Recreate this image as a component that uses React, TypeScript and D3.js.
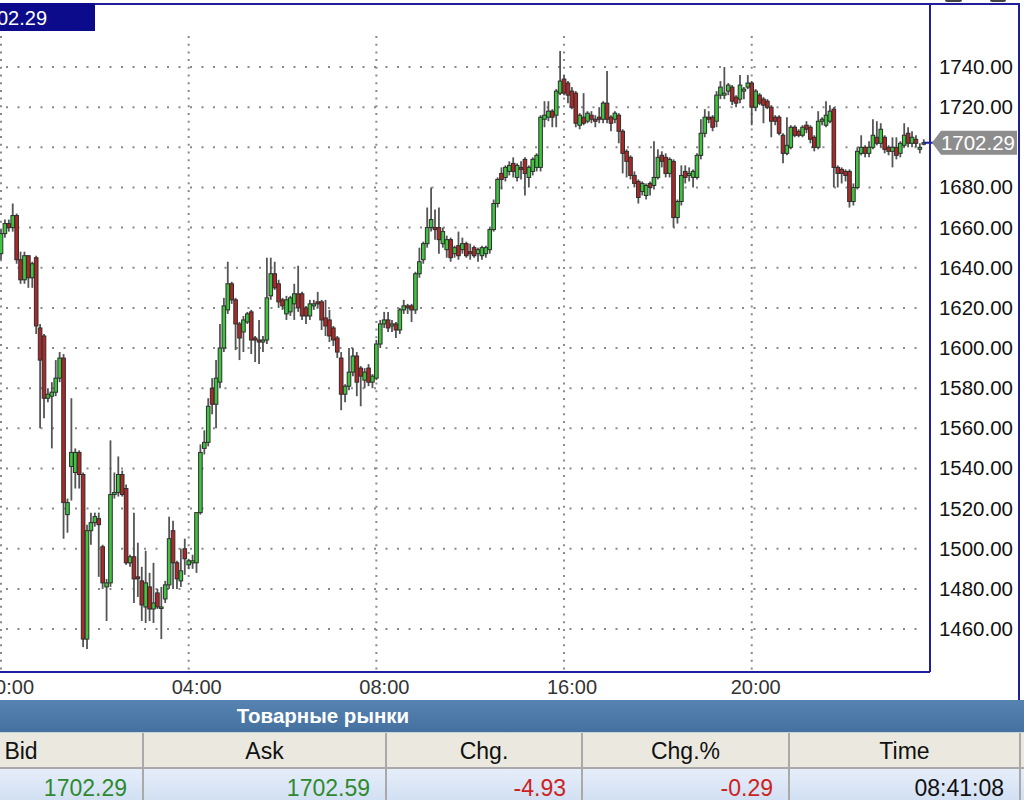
import React, { useEffect, useRef } from "react";
import * as d3 from "d3";

// OHLC, 5-min candles, one array per 4h session block
const seg0 = [
  [1647, 1659, 1644, 1657], [1657, 1664, 1655, 1662], [1662, 1664, 1658, 1660], [1660, 1672, 1658, 1666],
  [1666, 1667, 1642, 1644], [1644, 1648, 1632, 1634], [1634, 1648, 1632, 1646], [1646, 1646, 1630, 1635],
  [1635, 1643, 1630, 1642], [1645, 1646, 1607, 1611], [1610, 1612, 1560, 1594], [1606, 1607, 1565, 1575],
  [1575, 1580, 1573, 1577], [1576, 1583, 1550, 1578], [1578, 1594, 1576, 1585], [1585, 1598, 1583, 1595],
  [1595, 1597, 1505, 1523], [1517, 1525, 1508, 1523], [1541, 1575, 1524, 1548], [1538, 1550, 1530, 1548],
  [1548, 1549, 1530, 1537], [1537, 1538, 1451, 1455], [1455, 1512, 1450, 1509], [1509, 1518, 1502, 1513],
  [1513, 1518, 1511, 1516], [1515, 1518, 1486, 1512], [1501, 1502, 1480, 1483], [1481, 1485, 1464, 1483],
  [1483, 1554, 1481, 1527], [1527, 1538, 1525, 1528], [1528, 1546, 1526, 1537], [1537, 1539, 1526, 1527],
  [1530, 1532, 1492, 1493], [1493, 1497, 1491, 1496], [1496, 1518, 1473, 1485], [1486, 1503, 1476, 1485],
  [1484, 1491, 1464, 1472], [1471, 1499, 1463, 1483], [1481, 1488, 1464, 1470], [1470, 1493, 1463, 1473],
  [1478, 1480, 1470, 1471], [1471, 1481, 1455, 1471], [1475, 1484, 1473, 1482], [1482, 1516, 1480, 1505],
  [1509, 1514, 1480, 1493], [1493, 1494, 1480, 1485], [1484, 1500, 1481, 1489], [1500, 1505, 1487, 1495],
];
const seg1 = [
  [1492, 1495, 1490, 1494], [1493, 1497, 1490, 1494], [1493, 1518, 1488, 1518], [1518, 1552, 1517, 1548],
  [1550, 1559, 1547, 1553], [1553, 1575, 1551, 1571], [1580, 1585, 1567, 1572], [1572, 1594, 1560, 1585],
  [1583, 1612, 1580, 1600], [1600, 1625, 1598, 1621], [1619, 1643, 1617, 1632], [1632, 1633, 1622, 1624],
  [1624, 1625, 1599, 1612], [1612, 1613, 1594, 1605], [1608, 1616, 1598, 1614], [1613, 1618, 1612, 1617],
  [1618, 1619, 1597, 1604], [1605, 1606, 1593, 1604], [1604, 1614, 1592, 1603], [1603, 1606, 1598, 1604],
  [1604, 1645, 1602, 1625], [1626, 1645, 1624, 1637], [1637, 1643, 1629, 1630], [1632, 1634, 1620, 1623],
  [1624, 1625, 1619, 1621], [1617, 1626, 1614, 1624], [1618, 1626, 1616, 1625], [1622, 1632, 1614, 1627],
  [1627, 1641, 1618, 1620], [1627, 1628, 1614, 1616], [1620, 1621, 1612, 1616], [1616, 1624, 1614, 1622],
  [1621, 1624, 1619, 1622], [1623, 1628, 1620, 1622], [1623, 1624, 1609, 1614], [1615, 1624, 1606, 1611],
  [1614, 1619, 1603, 1606], [1610, 1611, 1601, 1604], [1605, 1606, 1595, 1598], [1595, 1598, 1569, 1577],
  [1577, 1582, 1573, 1581], [1581, 1600, 1579, 1588], [1588, 1600, 1586, 1596], [1596, 1598, 1576, 1583],
  [1590, 1591, 1571, 1586], [1584, 1590, 1580, 1588], [1590, 1592, 1581, 1583], [1583, 1587, 1580, 1586],
];
const seg2 = [
  [1585, 1604, 1584, 1602], [1602, 1614, 1600, 1612], [1612, 1618, 1610, 1614], [1614, 1618, 1608, 1610],
  [1611, 1614, 1608, 1612], [1612, 1613, 1605, 1609], [1609, 1620, 1607, 1619], [1619, 1624, 1617, 1621],
  [1621, 1622, 1617, 1620], [1621, 1622, 1613, 1619], [1619, 1638, 1617, 1637], [1637, 1650, 1635, 1643],
  [1644, 1653, 1642, 1652], [1652, 1670, 1650, 1660], [1660, 1680, 1658, 1664], [1660, 1669, 1654, 1659],
  [1660, 1670, 1647, 1654], [1652, 1660, 1650, 1658], [1649, 1656, 1645, 1654], [1654, 1655, 1643, 1645],
  [1647, 1651, 1645, 1650], [1651, 1658, 1644, 1646], [1649, 1655, 1647, 1652], [1652, 1653, 1645, 1646],
  [1648, 1652, 1644, 1647], [1650, 1651, 1645, 1646], [1647, 1650, 1643, 1649], [1646, 1651, 1644, 1650],
  [1647, 1651, 1645, 1650], [1649, 1660, 1647, 1659], [1659, 1674, 1658, 1672], [1672, 1685, 1670, 1684],
  [1687, 1690, 1679, 1684], [1685, 1691, 1683, 1690], [1688, 1693, 1686, 1691], [1692, 1695, 1685, 1688],
  [1685, 1692, 1683, 1691], [1690, 1693, 1684, 1689], [1694, 1695, 1676, 1687], [1685, 1691, 1680, 1690],
  [1688, 1695, 1686, 1694], [1690, 1697, 1688, 1696], [1690, 1716, 1688, 1715], [1714, 1723, 1710, 1716],
  [1715, 1723, 1713, 1718], [1718, 1719, 1710, 1715], [1716, 1729, 1710, 1728], [1727, 1748, 1726, 1733],
];
const seg3 = [
  [1734, 1736, 1726, 1727], [1732, 1733, 1722, 1726], [1728, 1730, 1719, 1720], [1727, 1728, 1710, 1712],
  [1711, 1717, 1709, 1716], [1715, 1727, 1711, 1712], [1713, 1718, 1712, 1717], [1716, 1718, 1712, 1714],
  [1714, 1716, 1710, 1713], [1715, 1720, 1712, 1714], [1714, 1723, 1712, 1722], [1722, 1738, 1712, 1714],
  [1715, 1716, 1708, 1712], [1714, 1718, 1712, 1717], [1716, 1717, 1702, 1708], [1708, 1709, 1687, 1697],
  [1698, 1699, 1685, 1693], [1695, 1696, 1684, 1686], [1686, 1688, 1680, 1682], [1683, 1684, 1672, 1675],
  [1678, 1683, 1676, 1682], [1676, 1682, 1674, 1681], [1682, 1683, 1676, 1680], [1681, 1703, 1679, 1685],
  [1685, 1699, 1684, 1695], [1696, 1698, 1690, 1693], [1695, 1697, 1685, 1687], [1687, 1695, 1685, 1694],
  [1693, 1694, 1660, 1665], [1665, 1674, 1662, 1673], [1673, 1691, 1671, 1686], [1688, 1691, 1682, 1685],
  [1686, 1690, 1683, 1687], [1685, 1689, 1680, 1688], [1685, 1697, 1684, 1696], [1696, 1714, 1694, 1707],
  [1707, 1719, 1705, 1715], [1715, 1718, 1712, 1714], [1715, 1716, 1708, 1710], [1713, 1728, 1710, 1726],
  [1726, 1733, 1724, 1730], [1726, 1740, 1724, 1727], [1728, 1732, 1726, 1731], [1730, 1731, 1721, 1723],
  [1725, 1726, 1720, 1722], [1724, 1736, 1722, 1731], [1728, 1730, 1724, 1729], [1730, 1736, 1729, 1732],
];
const seg4 = [
  [1732, 1733, 1711, 1720], [1720, 1729, 1718, 1728], [1726, 1727, 1721, 1722], [1724, 1725, 1712, 1721],
  [1723, 1724, 1719, 1720], [1720, 1721, 1705, 1713], [1715, 1716, 1711, 1713], [1715, 1716, 1706, 1707],
  [1706, 1707, 1692, 1697], [1697, 1715, 1696, 1701], [1700, 1711, 1699, 1710], [1710, 1711, 1705, 1706],
  [1708, 1709, 1705, 1706], [1706, 1711, 1705, 1710], [1711, 1713, 1707, 1709], [1710, 1711, 1702, 1704],
  [1705, 1706, 1698, 1700], [1700, 1718, 1699, 1713], [1713, 1715, 1711, 1714], [1711, 1723, 1710, 1716],
  [1713, 1721, 1712, 1718], [1719, 1720, 1680, 1690], [1690, 1691, 1680, 1687], [1689, 1690, 1682, 1687],
  [1688, 1689, 1683, 1686], [1688, 1689, 1670, 1673], [1673, 1682, 1671, 1680], [1680, 1700, 1679, 1698],
  [1697, 1706, 1696, 1700], [1700, 1701, 1695, 1697], [1697, 1703, 1695, 1700], [1700, 1714, 1699, 1706],
  [1705, 1713, 1701, 1702], [1702, 1712, 1700, 1709], [1705, 1706, 1697, 1699], [1700, 1701, 1696, 1698],
  [1698, 1705, 1690, 1700], [1700, 1705, 1694, 1696], [1697, 1703, 1695, 1702], [1701, 1712, 1700, 1706],
  [1707, 1710, 1700, 1702], [1702, 1708, 1700, 1705], [1704, 1706, 1700, 1702], [1699, 1702, 1697, 1700],
  [1702, 1704, 1701, 1702.29],
];

const yTicks = [1460, 1480, 1500, 1520, 1540, 1560, 1580, 1600, 1620, 1640, 1660, 1680, 1700, 1720, 1740];
const timeLabels = ["00:00", "04:00", "08:00", "16:00", "20:00"];
const lastPrice = 1702.29;

const headers = ["Bid", "Ask", "Chg.", "Chg.%", "Time"];
const rowValues = ["1702.29", "1702.59", "-4.93", "-0.29", "08:41:08"];
const rowColors = ["#2f8a2f", "#2f8a2f", "#cc2222", "#cc2222", "#111"];

const FONT = "'Liberation Sans', Arial, sans-serif";
const NAVY = "#1e1e9e";

const App = () => {
  const ref = useRef(null);

  useEffect(() => {
    const svg = d3.select(ref.current);
    svg.selectAll("*").remove();

    const candles = [...seg0, ...seg1, ...seg2, ...seg3, ...seg4].map(([o, h, l, c]) => ({ o, h, l, c }));
    const segStarts = [0, seg0.length, seg0.length + seg1.length, seg0.length + seg1.length + seg2.length,
      seg0.length + seg1.length + seg2.length + seg3.length];

    const plotL = 0, plotR = 930, plotT = 4, plotB = 672;
    const x = d3.scaleLinear().domain([0, 236]).range([1, 1 + 236 * 3.91]);
    const y = d3.scaleLinear().domain([1438.6, 1771.4]).range([plotB, plotT]);

    svg.append("rect").attr("width", 1024).attr("height", 800).attr("fill", "#fff");

    const defs = svg.append("defs");
    defs.append("clipPath").attr("id", "plotclip").append("rect")
      .attr("x", plotL).attr("y", plotT).attr("width", plotR - plotL).attr("height", plotB - plotT);
    const hg = defs.append("linearGradient").attr("id", "hdr").attr("x1", 0).attr("x2", 0).attr("y1", 0).attr("y2", 1);
    hg.append("stop").attr("offset", "0%").attr("stop-color", "#5683b1");
    hg.append("stop").attr("offset", "100%").attr("stop-color", "#44719f");
    const rg = defs.append("linearGradient").attr("id", "row").attr("x1", 0).attr("x2", 0).attr("y1", 0).attr("y2", 1);
    rg.append("stop").attr("offset", "0%").attr("stop-color", "#e6eefa");
    rg.append("stop").attr("offset", "100%").attr("stop-color", "#d2e0f3");

    // grid
    const grid = svg.append("g");
    grid.selectAll("line.h").data(yTicks).enter().append("line")
      .attr("x1", 6).attr("x2", 926)
      .attr("y1", (d) => y(d)).attr("y2", (d) => y(d))
      .attr("stroke", "#8a8a8a").attr("stroke-width", 2).attr("stroke-dasharray", "2 9.5");
    grid.selectAll("line.v").data(segStarts).enter().append("line")
      .attr("x1", (d) => Math.max(1, x(d))).attr("x2", (d) => Math.max(1, x(d)))
      .attr("y1", 36).attr("y2", plotB)
      .attr("stroke", "#8a8a8a").attr("stroke-width", 2).attr("stroke-dasharray", "2 5.7");

    // candles
    const cg = svg.append("g").attr("clip-path", "url(#plotclip)");
    const bw = 3.6;
    cg.selectAll("line.w").data(candles).enter().append("line")
      .attr("x1", (d, i) => x(i)).attr("x2", (d, i) => x(i))
      .attr("y1", (d) => y(d.h)).attr("y2", (d) => y(d.l))
      .attr("stroke", "#555").attr("stroke-width", 1.8);
    cg.selectAll("rect.b").data(candles).enter().append("rect")
      .attr("x", (d, i) => x(i) - bw / 2)
      .attr("y", (d) => y(Math.max(d.o, d.c)))
      .attr("width", bw)
      .attr("height", (d) => Math.max(1.5, Math.abs(y(d.o) - y(d.c))))
      .attr("fill", (d) => (d.c >= d.o ? "#3fc43f" : "#ad2828"))
      .attr("stroke", "#2e2e2e").attr("stroke-width", 1);

    // last price line + tag
    const ly = y(lastPrice);
    svg.append("line").attr("x1", x(236)).attr("x2", 934).attr("y1", ly).attr("y2", ly)
      .attr("stroke", NAVY).attr("stroke-width", 2);
    svg.append("path")
      .attr("d", `M932,${ly} L941,${ly - 12} L1017,${ly - 12} L1017,${ly + 12} L941,${ly + 12} Z`)
      .attr("fill", "#8d8d8d");
    svg.append("text").attr("x", 1015).attr("y", ly + 7).attr("text-anchor", "end")
      .attr("font-family", FONT).attr("font-size", 20.5).attr("fill", "#fff").text(d3.format(".2f")(lastPrice));

    // y tick labels
    svg.selectAll("text.yt").data(yTicks.filter((t) => Math.abs(t - lastPrice) > 8)).enter().append("text")
      .attr("x", 1013).attr("y", (d) => y(d) + 7).attr("text-anchor", "end")
      .attr("font-family", FONT).attr("font-size", 20.5).attr("fill", "#111")
      .text((d) => d3.format(".2f")(d));

    // time labels
    svg.selectAll("text.xt").data(timeLabels).enter().append("text")
      .attr("x", (d, i) => x(segStarts[i]) + (i === 4 ? 4 : 8)).attr("y", 694).attr("text-anchor", "middle")
      .attr("font-family", FONT).attr("font-size", 20).attr("fill", "#333").text((d) => d);

    // frame
    const fr = svg.append("g").attr("fill", "none").attr("stroke", NAVY).attr("stroke-width", 2);
    fr.append("line").attr("x1", 0).attr("x2", 1020).attr("y1", plotT).attr("y2", plotT);
    fr.append("line").attr("x1", plotR).attr("x2", plotR).attr("y1", plotT).attr("y2", plotB);
    fr.append("line").attr("x1", 0).attr("x2", plotR).attr("y1", plotB).attr("y2", plotB);
    fr.append("line").attr("x1", 1019).attr("x2", 1019).attr("y1", plotT).attr("y2", 700);

    // top-left value box
    svg.append("rect").attr("x", 0).attr("y", 3).attr("width", 95).attr("height", 28).attr("fill", "#0b0b8c");
    svg.append("text").attr("x", 47).attr("y", 25).attr("text-anchor", "end")
      .attr("font-family", FONT).attr("font-size", 20).attr("fill", "#fff").text(d3.format(".2f")(lastPrice));

    // little toolbar stubs at the top edge
    svg.append("rect").attr("x", 945).attr("y", -4).attr("width", 17).attr("height", 6).attr("rx", 2).attr("fill", "#444");
    svg.append("rect").attr("x", 990).attr("y", -4).attr("width", 16).attr("height", 6).attr("rx", 2).attr("fill", "#444");

    // table
    const cells = [[-101, 143], [143, 386], [386, 582], [582, 789], [789, 1020]];
    svg.append("rect").attr("x", 0).attr("y", 700).attr("width", 1024).attr("height", 32).attr("fill", "url(#hdr)");
    svg.append("text").attr("x", 323).attr("y", 723).attr("text-anchor", "middle")
      .attr("font-family", FONT).attr("font-size", 20.5).attr("font-weight", "bold").attr("fill", "#fff")
      .text("Товарные рынки");
    svg.append("rect").attr("x", 0).attr("y", 732).attr("width", 1024).attr("height", 36).attr("fill", "#ebe9df");
    svg.append("rect").attr("x", 0).attr("y", 768).attr("width", 1024).attr("height", 32).attr("fill", "url(#row)");
    svg.append("line").attr("x1", 0).attr("x2", 1024).attr("y1", 732.5).attr("y2", 732.5).attr("stroke", "#c9d3de");
    svg.append("line").attr("x1", 0).attr("x2", 1024).attr("y1", 768).attr("y2", 768).attr("stroke", "#a9a9a9").attr("stroke-width", 2);
    svg.selectAll("line.cd").data(cells.slice(1)).enter().append("line")
      .attr("x1", (d) => d[0]).attr("x2", (d) => d[0]).attr("y1", 733).attr("y2", 800)
      .attr("stroke", "#a9a9a9").attr("stroke-width", 2);
    svg.append("line").attr("x1", 1020).attr("x2", 1020).attr("y1", 733).attr("y2", 800)
      .attr("stroke", "#a9a9a9").attr("stroke-width", 2);
    svg.selectAll("text.hd").data(headers).enter().append("text")
      .attr("x", (d, i) => (cells[i][0] + cells[i][1]) / 2).attr("y", 759).attr("text-anchor", "middle")
      .attr("font-family", FONT).attr("font-size", 23).attr("fill", "#111").text((d) => d);
    svg.selectAll("text.rv").data(rowValues).enter().append("text")
      .attr("x", (d, i) => cells[i][1] - 16).attr("y", 796).attr("text-anchor", "end")
      .attr("font-family", FONT).attr("font-size", 23).attr("fill", (d, i) => rowColors[i]).text((d) => d);
  }, []);

  return (
    <svg ref={ref} width={1024} height={800} style={{ position: "absolute", left: 0, top: 0 }}></svg>
  );
};

export default App;
